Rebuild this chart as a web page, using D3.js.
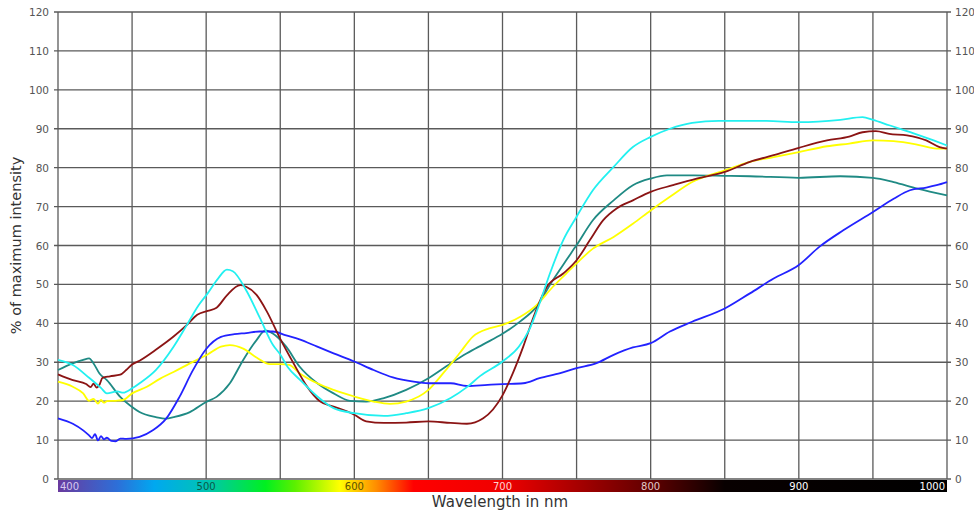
<!DOCTYPE html>
<html>
<head>
<meta charset="utf-8">
<script src="https://cdn.jsdelivr.net/npm/d3@7"></script>
<style>
  body { margin: 0; background: #fff; }
  svg { display: block; font-family: "DejaVu Sans", Verdana, sans-serif; }
</style>
</head>
<body>
<div id="chart"></div>
<script>
// measured spectra, [wavelength nm, % of max]
var cyanSeries = [[400,30.6],[410,29.3],[421,26],[429,23.4],[433,22],[440,22.5],[444,22.2],[450,23.3],[455,24.6],[466,28],[478,34],[487,39.6],[495,44.7],[501,47.7],[508,51.5],[514,53.8],[518,53.4],[527,48.5],[536,41.6],[545,34.5],[550,32],[555,28.8],[563,25.6],[575,21.2],[586,18.2],[600,16.9],[620,16.2],[635,16.9],[650,18.2],[665,20.8],[676,23.6],[685,26.5],[700,30.2],[711,34],[718,38.3],[725,45.1],[732,52.8],[741,61.4],[750,67.4],[761,74.2],[775,80.2],[788,85.3],[800,87.9],[813,90],[828,91.5],[846,92],[878,92],[900,91.7],[928,92.3],[943,93],[950,92.3],[961,90.9],[977,88.9],[991,87],[1000,85.7]];

var redSeries = [[400,26.9],[410,25.4],[419,24.4],[422,23.6],[424,24.5],[426,23.5],[428,24.2],[430,26],[435,26.4],[442,26.8],[446,28],[450,29.4],[455,30.4],[466,33.2],[478,36.6],[487,39.6],[494,42.2],[501,43.2],[507,44],[514,47.2],[523,49.8],[527,49.4],[534,47.3],[541,43],[550,36],[559,29.7],[568,23.8],[577,19.9],[586,18.6],[595,17.4],[600,16.5],[608,14.8],[620,14.4],[635,14.5],[650,14.8],[665,14.4],[676,14.2],[687,15.6],[700,21.5],[707,27.2],[714,34],[721,41.7],[730,49.4],[741,52.8],[750,56.2],[759,61.4],[768,66.5],[777,69.5],[788,71.6],[800,73.8],[815,75.5],[831,77.2],[850,78.9],[867,81.5],[883,83.2],[900,85.1],[919,87],[934,88],[943,89.1],[952,89.4],[961,88.7],[973,88.3],[986,87],[995,85.3],[1000,84.9]];

var yellowSeries = [[400,25],[410,23.7],[417,22],[421,20.1],[424,20.6],[427,19.4],[429,20.3],[431,19.6],[433,20],[439,20.1],[444,20.3],[450,22],[460,23.7],[469,25.8],[478,27.5],[489,29.7],[501,32],[510,34],[516,34.4],[525,33.5],[534,31.2],[543,29.5],[550,29.5],[556,29.3],[563,27.2],[575,24.6],[586,22.9],[600,21.2],[613,19.9],[624,19.3],[635,19.9],[650,22.9],[660,27.2],[671,32.3],[680,36.6],[691,38.7],[700,39.6],[712,41.7],[723,44.7],[734,49.4],[743,52.8],[750,55.4],[761,59.2],[775,62.2],[788,65.6],[800,69],[813,72.5],[828,76.3],[850,79.3],[867,81.5],[883,82.7],[900,84],[919,85.5],[934,86.2],[950,87],[964,86.8],[979,86],[993,84.9],[1000,84.9]];

var tealSeries = [[400,28],[410,29.7],[417,30.6],[421,31],[424,29.7],[428,27.1],[433,25.4],[442,21.1],[450,18.5],[455,17.2],[466,15.9],[473,15.5],[478,15.9],[489,17.2],[500,19.8],[507,21.1],[516,24.6],[525,30.6],[534,35.7],[540,38.2],[545,37.4],[554,34],[563,28.9],[575,24.6],[586,22],[597,20.1],[608,19.9],[620,20.8],[635,22.9],[650,25.9],[665,29.7],[676,32.3],[687,34.6],[700,37.3],[712,40.5],[723,44.3],[734,51.1],[743,56.2],[750,60.1],[761,66.5],[775,71.6],[788,75.5],[800,77.2],[811,78],[829,78],[850,77.9],[867,77.8],[900,77.4],[928,77.8],[950,77.4],[964,76.3],[980,74.6],[1000,72.9]];

var blueSeries = [[400,15.6],[410,14.2],[417,12.5],[421,11.2],[423,10.5],[425,11.5],[427,9.9],[429,11],[431,10.2],[433,10.6],[436,9.8],[439,9.7],[442,10.4],[446,10.3],[455,10.8],[464,12.5],[473,15.5],[482,21.1],[491,27.9],[500,33.4],[510,36.5],[519,37.2],[527,37.5],[536,37.9],[545,37.9],[554,36.9],[563,35.9],[575,34],[586,32.3],[600,30.2],[613,28],[626,26.1],[640,25],[650,24.6],[665,24.6],[676,23.9],[690,24.2],[700,24.4],[714,24.6],[725,25.9],[739,27.2],[750,28.5],[763,29.7],[775,31.9],[788,33.8],[800,34.9],[813,37.9],[828,40.4],[850,43.8],[867,47.7],[883,51.5],[900,55],[914,59.7],[930,63.9],[950,68.6],[964,72],[975,74.2],[986,74.9],[993,75.5],[1000,76.3]];

var seriesList = [tealSeries, yellowSeries, blueSeries, redSeries, cyanSeries];
var seriesColors = ["#1f8a84", "#ffff00", "#2222ff", "#8b1414", "#22f0f0"];

var yTicks = [0, 10, 20, 30, 40, 50, 60, 70, 80, 90, 100, 110, 120];
var xGrid = d3.range(400, 1001, 50);
var bandLabels = [400, 500, 600, 700, 800, 900, 1000];
var bandLabelColors = ["#d8c8f0", "#0b5a48", "#5a5200", "#ffd0d0", "#e0c8c8", "#ffffff", "#ffffff"];

// colour stops of the spectrum strip
var bandStops = [[400,"#6a3a9e"],[440,"#2d6fd8"],[465,"#00a8f0"],[500,"#00c4b4"],[540,"#00f020"],[560,"#5cf000"],[590,"#ffff00"],[615,"#ff8c00"],[640,"#ff0000"],[700,"#f00000"],[750,"#a80000"],[800,"#600000"],[850,"#080000"],[1000,"#000000"]];

var margin = { top: 12, right: 27, bottom: 31, left: 58 },
    width = 974 - margin.left - margin.right,
    height = 510 - margin.top - margin.bottom;

var svg = d3.select("#chart")
    .append("svg")
    .attr("width", 974)
    .attr("height", 510)
    .append("g")
    .attr("transform", "translate(" + margin.left + "," + margin.top + ")");

var x = d3.scaleLinear().domain([400, 1000]).range([0, width]);
var y = d3.scaleLinear().domain([0, 120]).range([height, 0]);

// horizontal grid with small outside ticks on both sides
svg.append("g")
    .selectAll("line")
    .data(yTicks)
    .enter()
    .append("line")
    .attr("x1", -4)
    .attr("x2", width + 4)
    .attr("y1", function (d) { return y(d); })
    .attr("y2", function (d) { return y(d); })
    .style("stroke", "#5a5a5a")
    .style("stroke-width", 1.3);

// vertical grid
svg.append("g")
    .selectAll("line")
    .data(xGrid)
    .enter()
    .append("line")
    .attr("x1", function (d) { return x(d); })
    .attr("x2", function (d) { return x(d); })
    .attr("y1", 0)
    .attr("y2", height)
    .style("stroke", "#5a5a5a")
    .style("stroke-width", 1.3);

// y labels left and right
svg.append("g")
    .selectAll("text")
    .data(yTicks)
    .enter()
    .append("text")
    .attr("x", -9)
    .attr("y", function (d) { return y(d) + 4; })
    .attr("text-anchor", "end")
    .style("font-size", "10.5px")
    .style("fill", "#555")
    .text(function (d) { return d; });

svg.append("g")
    .selectAll("text")
    .data(yTicks)
    .enter()
    .append("text")
    .attr("x", width + 8)
    .attr("y", function (d) { return y(d) + 4; })
    .attr("text-anchor", "start")
    .style("font-size", "10.5px")
    .style("fill", "#555")
    .text(function (d) { return d; });

// spectra
var line = d3.line()
    .x(function (d) { return x(d[0]); })
    .y(function (d) { return y(d[1]); })
    .curve(d3.curveMonotoneX);

svg.append("g")
    .selectAll("path")
    .data(seriesList)
    .enter()
    .append("path")
    .attr("d", line)
    .style("fill", "none")
    .style("stroke", function (d, i) { return seriesColors[i]; })
    .style("stroke-width", 1.8);

// spectrum strip under the plot
var grad = svg.append("defs")
    .append("linearGradient")
    .attr("id", "spectrum")
    .attr("x1", "0%").attr("x2", "100%")
    .attr("y1", "0%").attr("y2", "0%");

grad.selectAll("stop")
    .data(bandStops)
    .enter()
    .append("stop")
    .attr("offset", function (d) { return ((d[0] - 400) / 600 * 100) + "%"; })
    .attr("stop-color", function (d) { return d[1]; });

svg.append("rect")
    .attr("x", 0)
    .attr("y", height + 1)
    .attr("width", width)
    .attr("height", 12)
    .style("fill", "url(#spectrum)");

svg.append("g")
    .selectAll("text")
    .data(bandLabels)
    .enter()
    .append("text")
    .attr("x", function (d) {
        if (d == 400) return x(d) + 2;
        if (d == 1000) return x(d) - 2;
        return x(d);
    })
    .attr("y", height + 11)
    .attr("text-anchor", function (d) {
        if (d == 400) return "start";
        if (d == 1000) return "end";
        return "middle";
    })
    .style("font-size", "10px")
    .style("fill", function (d, i) { return bandLabelColors[i]; })
    .text(function (d) { return d; });

// axis titles
svg.append("text")
    .attr("x", 442)
    .attr("y", height + 28)
    .attr("text-anchor", "middle")
    .style("font-size", "15px")
    .style("fill", "#333")
    .text("Wavelength in nm");

svg.append("text")
    .attr("transform", "translate(-37," + (height / 2) + ") rotate(-90)")
    .attr("text-anchor", "middle")
    .style("font-size", "14.5px")
    .style("fill", "#333")
    .text("% of maximum intensity");
</script>
</body>
</html>
